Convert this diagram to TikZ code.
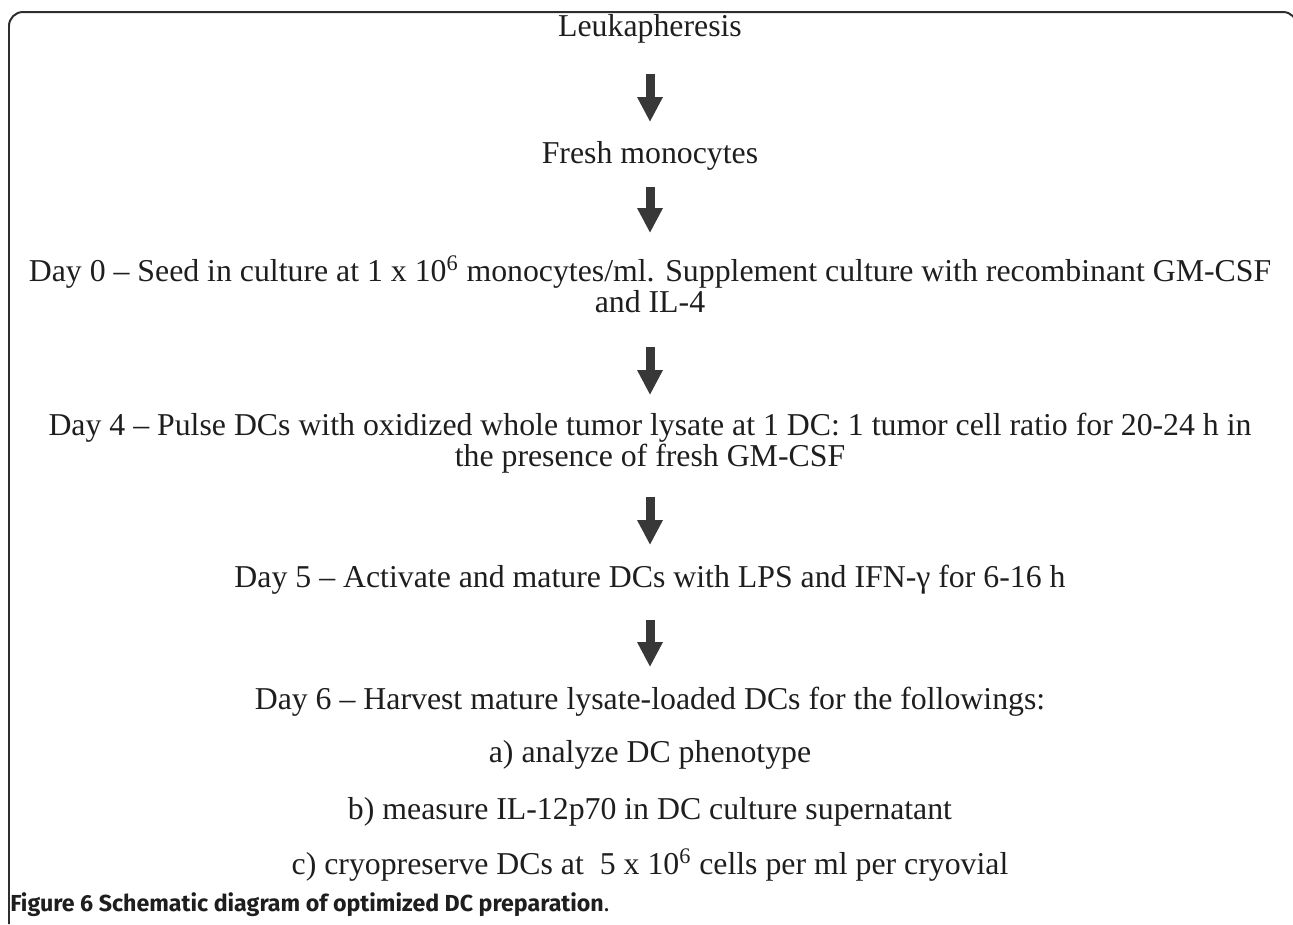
\documentclass[tikz,border=0pt]{standalone}
\usepackage{fontspec}
\setmainfont{Liberation Serif}
\newfontfamily\capfont{Fira Sans}
\usetikzlibrary{arrows.meta}
\definecolor{ink}{HTML}{1E1E1E}
\definecolor{arrowgray}{HTML}{383838}
\definecolor{rim}{HTML}{2E2E2E}

\begin{document}
\begin{tikzpicture}[x=0.02cm,y=-0.02cm,
  stage/.style={font=\fontsize{18.1}{17.1}\selectfont,color=ink,inner sep=0pt,anchor=base,align=center},
  flow/.style={draw=arrowgray,line width=0.18cm,xshift=-0.1cm,-{Triangle[width=0.48cm,length=0.5cm]}},
  border/.style={draw=rim,line width=0.04cm,rounded corners=0.28cm},
  caption/.style={font=\capfont\fontsize{13.2}{15}\selectfont,color=ink,inner sep=0pt,anchor=base west}]
  \useasboundingbox (0,0) rectangle (1293,924);
  \draw[border] (9,924) -- (9,12) -- (1297,12) -- (1297,60);
  % steps of the preparation
  \node[stage] (lk) at (650,36) {Leukapheresis};
  \node[stage] (fm) at (650,163) {Fresh monocytes};
  \node[stage] (d0) at (650,312) {Day 0 – Seed in culture at 1 x 10\textsuperscript{6} monocytes/ml. Supplement culture with recombinant GM-CSF\\and IL-4};
  \node[stage] (d4) at (650,466) {Day 4 – Pulse DCs with oxidized whole tumor lysate at 1 DC: 1 tumor cell ratio for 20-24 h in\\the presence of fresh GM-CSF};
  \node[stage] (d5) at (650,587) {Day 5 – Activate and mature DCs with LPS and IFN-γ for 6-16 h};
  \node[stage] (d6) at (650,709) {Day 6 – Harvest mature lysate-loaded DCs for the followings:};
  \node[stage] (ua) at (650,762) {a) analyze DC phenotype};
  \node[stage] (ub) at (650,819) {b) measure IL-12p70 in DC culture supernatant};
  \node[stage] (uc) at (650,874) {c) cryopreserve DCs at\ \ 5 x 10\textsuperscript{6} cells per ml per cryovial};
  \foreach \a/\b/\s/\e in {lk/fm/0.76/0.82,fm/d0/0.48/1.58,d0/d4/0.70/1.42,d4/d5/0.62/0.84,d5/d6/0.66/0.84}{\draw[flow,shorten <=\s cm,shorten >=\e cm] (\a.base) -- (\b.base);}
  \node[caption] (cap) at (10,911) {\textbf{Figure 6 Schematic diagram of optimized DC preparation}.};
\end{tikzpicture}
\end{document}
